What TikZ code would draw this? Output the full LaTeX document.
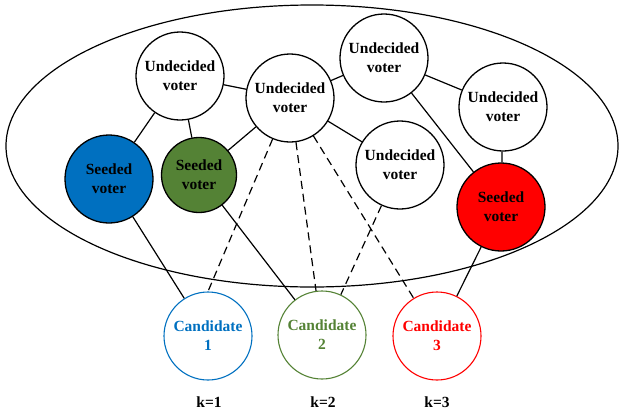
\documentclass[tikz,border=0pt]{standalone}
\usepackage{fontspec}
\setmainfont{Liberation Serif}
\definecolor{seedblue}{HTML}{0070C0}
\definecolor{seedgreen}{HTML}{548235}
\definecolor{seedred}{HTML}{FF0000}
\begin{document}
\begin{tikzpicture}[x=1pt,y=-1pt,
    voter/.style={circle,draw,line width=1.3pt,minimum size=88pt,inner sep=0pt,
      align=center,font=\fontsize{15.5}{19}\selectfont\bfseries},
    cand/.style={voter,line width=1.1pt},
    link/.style={line width=1.2pt},
    hint/.style={link,dash pattern=on 8pt off 5pt}]
    \useasboundingbox (0,0) rectangle (619,410);
    % Population of voters
    \draw[line width=1.2pt] (312,146) ellipse [x radius=306, y radius=141];
    % Undecided voters
    \node[voter,fill=white] (u1) at (180,76) {Undecided\\voter};
    \node[voter,fill=white] (u2) at (290,98) {Undecided\\voter};
    \node[voter,fill=white] (u3) at (384,58) {Undecided\\voter};
    \node[voter,fill=white] (u4) at (503,107) {Undecided\\voter};
    \node[voter,fill=white] (u5) at (400,165) {Undecided\\voter};
    % Seeded voters
    \node[voter,fill=seedblue] (sb) at (109,179) {Seeded\\voter};
    \node[voter,fill=seedgreen,minimum size=75pt] (sg) at (199,175) {Seeded\\voter};
    \node[voter,fill=seedred] (sr) at (501,207) {Seeded\\voter};
    % Candidates
    \node[cand,draw=seedblue,text=seedblue] (c1) at (208,336) {Candidate\\1};
    \node[cand,draw=seedgreen,text=seedgreen] (c2) at (322,335) {Candidate\\2};
    \node[cand,draw=seedred,text=seedred] (c3) at (437,336) {Candidate\\3};
    \node[font=\fontsize{15.5}{19}\selectfont\bfseries] (k1) at (209,402) {k=1};
    \node[font=\fontsize{15.5}{19}\selectfont\bfseries] (k2) at (323,402) {k=2};
    \node[font=\fontsize{15.5}{19}\selectfont\bfseries] (k3) at (437,402) {k=3};
    % Ties between voters
    \draw[link] (u1) -- (u2);
    \draw[link] (u1) -- (sb);
    \draw[link] (u1) -- (sg);
    \draw[link] (u2) -- (sg);
    \draw[link] (u2) -- (u3);
    \draw[link] (u2) -- (u5);
    \draw[link] (u3) -- (u4);
    \draw[link] (u3) -- (sr);
    \draw[link] (u4) -- (sr);
    % Seeds to candidates
    \draw[link] (sb) -- (c1);
    \draw[link] (sg) -- (c2);
    \draw[link] (sr) -- (c3);
    % Undecided to candidates
    \draw[hint] (u2) -- (c1.north);
    \draw[hint] (u2) -- (c2);
    \draw[hint] (u2) -- (c3);
    \draw[hint] (u5) -- (c2.65);
\end{tikzpicture}
\end{document}
